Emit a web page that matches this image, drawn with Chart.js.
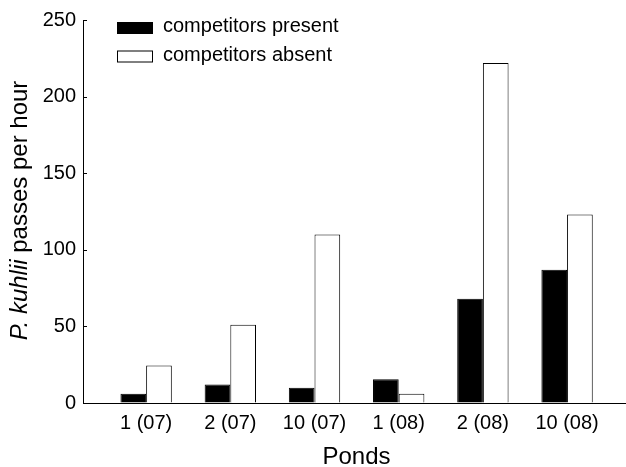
<!DOCTYPE html>
<html>
<head>
<meta charset="utf-8">
<script src="https://cdn.jsdelivr.net/npm/chart.js@4/dist/chart.umd.min.js"></script>
<style>
  html, body { margin: 0; padding: 0; background: #fff; }
  #wrap { width: 626px; height: 467px; }
</style>
</head>
<body>
<div id="wrap"><canvas id="chart" width="626" height="467"></canvas></div>
<script>
const ponds = ["1 (07)", "2 (07)", "10 (07)", "1 (08)", "2 (08)", "10 (08)"];
const present = [6, 12, 10, 15.5, 68, 87];
const absent = [24.5, 51, 110, 6, 222, 123];
const yTicks = [0, 50, 100, 150, 200, 250];

const FONT = '"Liberation Sans", Arial, sans-serif';
Chart.defaults.font.family = FONT;
Chart.defaults.color = "#000";

// y title has an italic species name, so draw it by hand
const yTitle = {
  id: "yTitle",
  afterDraw(chart) {
    const ctx = chart.ctx;
    const area = chart.chartArea;
    ctx.save();
    ctx.translate(27, (area.top + area.bottom) / 2 - 1);
    ctx.rotate(-Math.PI / 2);
    ctx.fillStyle = "#000";
    ctx.textBaseline = "alphabetic";
    ctx.font = "italic 24px " + FONT;
    const a = "P. kuhlii";
    const wa = ctx.measureText(a).width;
    ctx.font = "24px " + FONT;
    const b = " passes per hour";
    const wb = ctx.measureText(b).width;
    let x = -(wa + wb) / 2;
    ctx.font = "italic 24px " + FONT;
    ctx.fillText(a, x, 0);
    ctx.font = "24px " + FONT;
    ctx.fillText(b, x + wa, 0);
    // x title
    ctx.restore();
    ctx.save();
    ctx.font = "24px " + FONT;
    ctx.fillStyle = "#000";
    ctx.textAlign = "center";
    ctx.textBaseline = "alphabetic";
    ctx.fillText("Ponds", (area.left + area.right) / 2 + 2, 464);
    ctx.restore();
  }
};

// inward ticks on the y axis
const inTicks = {
  id: "inTicks",
  afterDraw(chart) {
    const ctx = chart.ctx;
    const y = chart.scales.y;
    const left = chart.chartArea.left;
    ctx.save();
    ctx.strokeStyle = "#000";
    ctx.lineWidth = 1;
    ctx.beginPath();
    y.ticks.forEach(t => {
      const py = Math.round(y.getPixelForValue(t.value)) + 0.5;
      ctx.moveTo(left, py);
      ctx.lineTo(left + 4, py);
    });
    ctx.stroke();
    ctx.restore();
  }
};

// legend inside the plot, top left
const boxLegend = {
  id: "boxLegend",
  afterDraw(chart) {
    const ctx = chart.ctx;
    ctx.save();
    ctx.font = "20px " + FONT;
    ctx.textBaseline = "alphabetic";
    chart.data.datasets.forEach((ds, i) => {
      const top = i === 0 ? 22 : 50.5;
      ctx.fillStyle = ds.backgroundColor;
      ctx.fillRect(117, top, 36, 11);
      ctx.strokeStyle = "#000";
      ctx.lineWidth = 1;
      ctx.strokeRect(117.5, top + 0.5, 35, 11);
      ctx.fillStyle = "#000";
      ctx.fillText(ds.label, 163, i === 0 ? 32 : 60.5);
    });
    ctx.restore();
  }
};

new Chart(document.getElementById("chart"), {
  type: "bar",
  data: {
    datasets: [
      { label: "competitors present", data: present.map((v, i) => ({ x: i, y: v })), backgroundColor: "#000", borderColor: "#000", borderWidth: 1 },
      { label: "competitors absent", data: absent.map((v, i) => ({ x: i, y: v })), backgroundColor: "#fff", borderColor: "#000", borderWidth: 1 }
    ]
  },
  options: {
    responsive: false,
    animation: false,
    layout: { padding: { top: 20, left: 0, right: 0, bottom: 0 } },
    categoryPercentage: 0.61,
    barPercentage: 1,
    plugins: { legend: { display: false }, tooltip: { enabled: false } },
    scales: {
      x: {
        type: "linear",
        offset: false,
        min: -0.75,
        max: 5.7,
        afterFit: s => { s.height = 64; },
        afterBuildTicks: s => { s.ticks = ponds.map((p, i) => ({ value: i })); },
        ticks: { callback: v => ponds[v], font: { size: 20 }, padding: 8, maxRotation: 0, autoSkip: false },
        grid: { drawOnChartArea: false, drawTicks: false, offset: false },
        border: { display: true, color: "#000", width: 1 }
      },
      y: {
        min: 0,
        max: 250,
        afterFit: s => { s.width = 83; },
        afterBuildTicks: s => { s.ticks = yTicks.map(v => ({ value: v })); },
        ticks: { font: { size: 20 }, padding: 7 },
        grid: { drawOnChartArea: false, drawTicks: false },
        border: { display: true, color: "#000", width: 1 }
      }
    }
  },
  plugins: [yTitle, inTicks, boxLegend]
});
</script>
</body>
</html>
